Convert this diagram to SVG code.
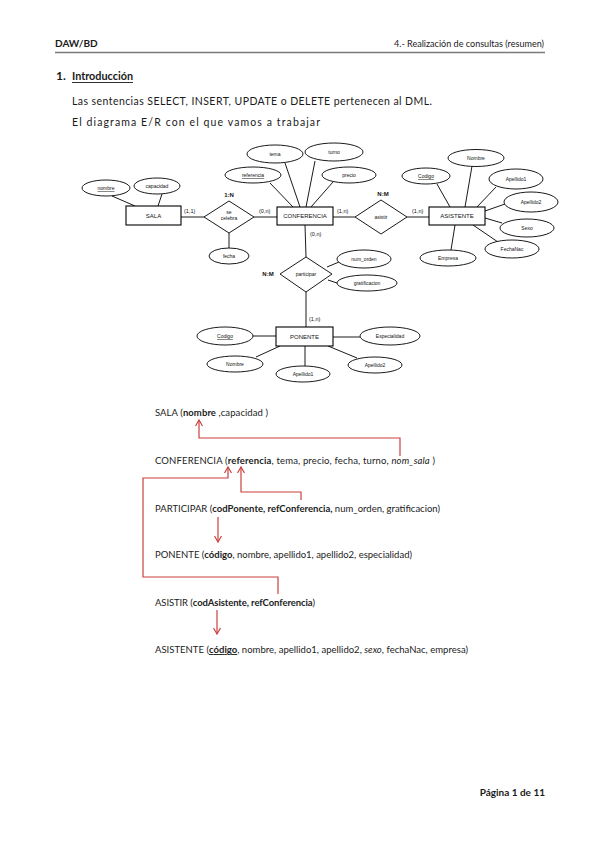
<svg xmlns="http://www.w3.org/2000/svg" width="599" height="848" viewBox="0 0 599 848">
<style>
.doc{font-family:Lato,"Liberation Sans",Arial,sans-serif;fill:#1a1a1a}
.ln{stroke:#000;stroke-width:0.9;fill:none}
.ent{fill:#fff;stroke:#000;stroke-width:1.1}
.att{fill:#fff;stroke:#000;stroke-width:0.9}
.tt{font-family:"Liberation Sans",Arial,sans-serif;font-size:5px;text-anchor:middle;fill:#111}
.te{font-family:"Liberation Sans",Arial,sans-serif;font-size:6px;text-anchor:middle;fill:#111}
.card{font-family:"Liberation Sans",Arial,sans-serif;font-size:5.5px;fill:#111}
.rel{font-family:"Liberation Sans",Arial,sans-serif;font-size:6px;font-weight:bold;text-anchor:middle;fill:#111}
.sch{font-family:Lato,"Liberation Sans",Arial,sans-serif;font-size:9.5px;fill:#222}
.red{stroke:#c9413d;stroke-width:1.2;fill:none}
</style>
<defs>
<marker id="ah" viewBox="0 0 8 8" refX="7" refY="4" markerWidth="8" markerHeight="8" markerUnits="userSpaceOnUse" orient="auto">
<path d="M1,0.5 L7,4 L1,7.5" fill="none" stroke="#c9413d" stroke-width="1.2"/>
</marker>
</defs>
<rect width="599" height="848" fill="#fff"/>

<!-- header -->
<g id="header">
<text class="doc" x="55" y="47" font-size="10" font-weight="bold">DAW/BD</text>
<text class="doc" x="544" y="47" font-size="9.5" text-anchor="end" textLength="150" lengthAdjust="spacingAndGlyphs">4.- Realización de consultas (resumen)</text>
<line x1="55" y1="52.5" x2="545" y2="52.5" stroke="#7a7a7a" stroke-width="1.6"/>
</g>

<g id="intro">
<text class="doc" x="56" y="80" font-size="12" font-weight="bold">1.</text>
<text class="doc" x="72" y="80" font-size="12" font-weight="bold" textLength="61" lengthAdjust="spacingAndGlyphs">Introducción</text>
<line x1="72" y1="82.5" x2="133" y2="82.5" stroke="#1a1a1a" stroke-width="0.9"/>
<text class="doc" x="72" y="105" font-size="10.5" textLength="360" lengthAdjust="spacing">Las sentencias SELECT, INSERT, UPDATE o DELETE pertenecen al DML.</text>
<text class="doc" x="72" y="126" font-size="10.5" textLength="248" lengthAdjust="spacing">El diagrama E/R con el que vamos a trabajar</text>
</g>

<!-- ER diagram connectors -->
<g id="er-connectors">
<line class="ln" x1="112" y1="196" x2="135" y2="206"/>
<line class="ln" x1="162" y1="194" x2="158" y2="206"/>
<line class="ln" x1="181" y1="217" x2="204" y2="217"/>
<line class="ln" x1="254" y1="217" x2="277" y2="217"/>
<line class="ln" x1="229" y1="233" x2="229" y2="248"/>
<line class="ln" x1="285" y1="163" x2="300" y2="207"/>
<line class="ln" x1="315" y1="161" x2="306" y2="207"/>
<line class="ln" x1="270" y1="183" x2="293" y2="207"/>
<line class="ln" x1="333" y1="182" x2="311" y2="207"/>
<line class="ln" x1="333" y1="217" x2="355" y2="217"/>
<line class="ln" x1="407" y1="217" x2="429" y2="217"/>
<line class="ln" x1="437" y1="184" x2="450" y2="207"/>
<line class="ln" x1="472" y1="166" x2="465" y2="207"/>
<line class="ln" x1="496" y1="187" x2="477" y2="207"/>
<line class="ln" x1="505" y1="204" x2="485" y2="211"/>
<line class="ln" x1="485" y1="218" x2="502" y2="223"/>
<line class="ln" x1="473" y1="225" x2="498" y2="242"/>
<line class="ln" x1="455" y1="225" x2="451" y2="250"/>
<line class="ln" x1="305" y1="225" x2="306" y2="257"/>
<line class="ln" x1="327" y1="267" x2="339" y2="262"/>
<line class="ln" x1="328" y1="280" x2="337" y2="283"/>
<line class="ln" x1="306" y1="292" x2="306" y2="327"/>
<line class="ln" x1="253" y1="336" x2="276" y2="336"/>
<line class="ln" x1="333" y1="337" x2="360" y2="337"/>
<line class="ln" x1="256" y1="357" x2="280" y2="346"/>
<line class="ln" x1="305" y1="346" x2="305" y2="366"/>
<line class="ln" x1="328" y1="346" x2="357" y2="358"/>
</g>

<!-- SALA -->
<g id="sala">
<rect class="ent" x="126" y="206" width="55" height="19"/>
<text class="te" x="153.5" y="217.5">SALA</text>
</g>
<g id="sala-nombre">
<ellipse class="att" cx="106" cy="188" rx="24" ry="8"/>
<text class="tt" x="106" y="190" text-decoration="underline">nombre</text>
</g>
<g id="sala-capacidad">
<ellipse class="att" cx="157" cy="186" rx="23" ry="8"/>
<text class="tt" x="157" y="188">capacidad</text>
</g>

<!-- relation SALA-CONFERENCIA -->
<g id="rel-celebra">
<polygon class="att" points="204,217 229,201 254,217 229,233"/>
<text class="rel" x="229" y="197">1:N</text>
<text class="tt" x="229" y="214" font-size="4">se</text>
<text class="tt" x="229" y="220">celebra</text>
</g>
<g id="fecha">
<ellipse class="att" cx="229" cy="256" rx="20" ry="8"/>
<text class="tt" x="229" y="258">fecha</text>
</g>

<!-- CONFERENCIA -->
<g id="conferencia">
<rect class="ent" x="277" y="207" width="56" height="18"/>
<text class="te" x="305" y="218">CONFERENCIA</text>
</g>
<g id="conf-tema">
<ellipse class="att" cx="275" cy="154" rx="28" ry="9"/>
<text class="tt" x="275" y="156">tema</text>
</g>
<g id="conf-turno">
<ellipse class="att" cx="334" cy="152" rx="29" ry="9"/>
<text class="tt" x="334" y="154">turno</text>
</g>
<g id="conf-referencia">
<ellipse class="att" cx="253" cy="175" rx="28" ry="8"/>
<text class="tt" x="253" y="177" text-decoration="underline">referencia</text>
</g>
<g id="conf-precio">
<ellipse class="att" cx="349" cy="175" rx="27" ry="8"/>
<text class="tt" x="349" y="177">precio</text>
</g>

<!-- relation asistir -->
<g id="rel-asistir">
<polygon class="att" points="355,217 381,200 407,217 381,234"/>
<text class="rel" x="383" y="196">N:M</text>
<text class="tt" x="381" y="219">asistir</text>
</g>

<!-- ASISTENTE -->
<g id="asistente">
<rect class="ent" x="429" y="207" width="56" height="18"/>
<text class="te" x="457" y="218">ASISTENTE</text>
</g>
<g id="asis-codigo">
<ellipse class="att" cx="426" cy="176" rx="24" ry="8"/>
<text class="tt" x="426" y="178" text-decoration="underline">Codigo</text>
</g>
<g id="asis-nombre">
<ellipse class="att" cx="476" cy="158" rx="28" ry="8.5"/>
<text class="tt" x="476" y="160">Nombre</text>
</g>
<g id="asis-apellido1">
<ellipse class="att" cx="516" cy="179" rx="27" ry="10"/>
<text class="tt" x="516" y="181">Apellido1</text>
</g>
<g id="asis-apellido2">
<ellipse class="att" cx="531" cy="202" rx="27" ry="10"/>
<text class="tt" x="531" y="204">Apellido2</text>
</g>
<g id="asis-sexo">
<ellipse class="att" cx="527" cy="228" rx="27" ry="9"/>
<text class="tt" x="527" y="230">Sexo</text>
</g>
<g id="asis-fechanac">
<ellipse class="att" cx="512" cy="249" rx="27" ry="9"/>
<text class="tt" x="512" y="251">FechaNac</text>
</g>
<g id="asis-empresa">
<ellipse class="att" cx="448" cy="258" rx="28" ry="8"/>
<text class="tt" x="448" y="260">Empresa</text>
</g>

<!-- relation participar -->
<g id="rel-participar">
<polygon class="att" points="280,274 306,257 332,274 306,292"/>
<text class="rel" x="268" y="276">N:M</text>
<text class="tt" x="306" y="276">participar</text>
</g>
<g id="part-num-orden">
<ellipse class="att" cx="364" cy="259" rx="27" ry="9"/>
<text class="tt" x="364" y="261">num_orden</text>
</g>
<g id="part-gratificacion">
<ellipse class="att" cx="367" cy="283" rx="30" ry="8"/>
<text class="tt" x="367" y="285">gratificacion</text>
</g>

<!-- PONENTE -->
<g id="ponente">
<rect class="ent" x="276" y="327" width="57" height="19"/>
<text class="te" x="304.5" y="338.5">PONENTE</text>
</g>
<g id="pon-codigo">
<ellipse class="att" cx="225" cy="336" rx="28" ry="9"/>
<text class="tt" x="225" y="338" text-decoration="underline">Codigo</text>
</g>
<g id="pon-especialidad">
<ellipse class="att" cx="390" cy="336" rx="30" ry="9"/>
<text class="tt" x="390" y="338">Especialidad</text>
</g>
<g id="pon-nombre">
<ellipse class="att" cx="235" cy="364" rx="28" ry="8"/>
<text class="tt" x="235" y="366">Nombre</text>
</g>
<g id="pon-apellido1">
<ellipse class="att" cx="303" cy="374" rx="27" ry="8"/>
<text class="tt" x="303" y="376">Apellido1</text>
</g>
<g id="pon-apellido2">
<ellipse class="att" cx="375" cy="365" rx="27" ry="8"/>
<text class="tt" x="375" y="367">Apellido2</text>
</g>

<!-- cardinalities -->
<g id="cardinalities">
<text class="card" x="184" y="213">(1,1)</text>
<text class="card" x="259" y="213">(0,n)</text>
<text class="card" x="337" y="213">(1,n)</text>
<text class="card" x="412" y="213">(1,n)</text>
<text class="card" x="310" y="236">(0,n)</text>
<text class="card" x="309" y="321">(1,n)</text>
</g>

<!-- relational schema -->
<g id="schema-sala">
<text class="sch" x="155" y="416" textLength="113" lengthAdjust="spacing">SALA (<tspan font-weight="bold">nombre</tspan> ,capacidad )</text>
</g>
<g id="schema-conferencia">
<text class="sch" x="155" y="464" textLength="280" lengthAdjust="spacing">CONFERENCIA (<tspan font-weight="bold">referencia</tspan>, tema, precio, fecha, turno, <tspan font-style="italic">nom_sala</tspan> )</text>
</g>
<g id="schema-participar">
<text class="sch" x="155" y="512" textLength="285" lengthAdjust="spacing">PARTICIPAR (<tspan font-weight="bold">codPonente, refConferencia,</tspan> num_orden, gratificacion)</text>
</g>
<g id="schema-ponente">
<text class="sch" x="155" y="558" textLength="257" lengthAdjust="spacing">PONENTE (<tspan font-weight="bold">código</tspan>, nombre, apellido1, apellido2, especialidad)</text>
</g>
<g id="schema-asistir">
<text class="sch" x="155" y="606" textLength="160" lengthAdjust="spacing">ASISTIR (<tspan font-weight="bold">codAsistente, refConferencia</tspan>)</text>
</g>
<g id="schema-asistente">
<text class="sch" x="155" y="653" textLength="313" lengthAdjust="spacing">ASISTENTE (<tspan font-weight="bold" text-decoration="underline">código</tspan>, nombre, apellido1, apellido2, <tspan font-style="italic">sexo</tspan>, fechaNac, empresa)</text>
</g>

<!-- red foreign key connectors -->
<g id="fk-connectors">
<path class="red" d="M400,456 L400,438 L199,438 L199,420" marker-end="url(#ah)"/>
<path class="red" d="M301,500 L301,492 L241,492 L241,467" marker-end="url(#ah)"/>
<path class="red" d="M278,594 L278,577 L143,577 L143,478 L228,478 L228,467" marker-end="url(#ah)"/>
<path class="red" d="M218,517 L218,542" marker-end="url(#ah)"/>
<path class="red" d="M217,610 L217,634" marker-end="url(#ah)"/>
</g>

<!-- footer -->
<g id="footer">
<text class="doc" x="545" y="796" font-size="10" font-weight="bold" text-anchor="end">Página 1 de 11</text>
</g>
</svg>
